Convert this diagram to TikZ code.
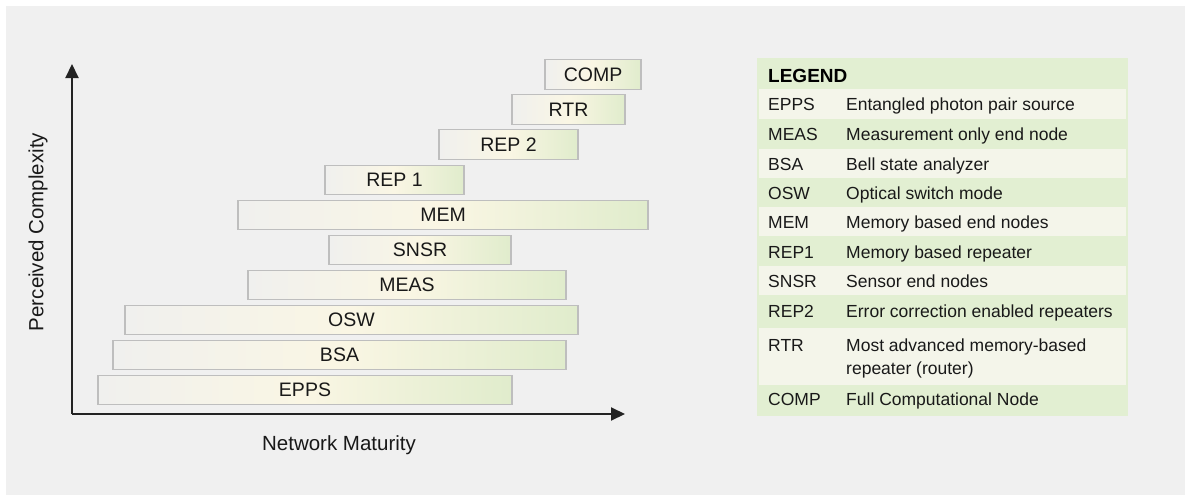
\documentclass[tikz,border=0pt]{standalone}
\usepackage{fontspec}
\setmainfont{Liberation Sans}
\usetikzlibrary{arrows.meta}
\definecolor{bgc}{RGB}{240,240,240}
\definecolor{barleft}{RGB}{240,240,238}
\definecolor{barmid}{RGB}{250,246,228}
\definecolor{barright}{RGB}{224,236,204}
\definecolor{barline}{RGB}{190,190,190}
\definecolor{leggreen}{RGB}{226,239,210}
\definecolor{leglight}{RGB}{244,245,234}
\definecolor{txt}{RGB}{25,25,25}
\tikzset{
  barbox/.style={rectangle, draw=barline, line width=1.2pt, inner sep=0pt,
    minimum height=29.5pt, left color=barleft, right color=barright, middle color=barmid,
    text=txt, font=\fontsize{19.5}{22}\selectfont},
  axisline/.style={line width=2pt, draw={rgb,255:red,35;green,35;blue,35}, -{Triangle[length=14pt,width=13pt]}},
  axislabel/.style={text=txt, font=\fontsize{20.5}{24}\selectfont, inner sep=0pt},
  legabbr/.style={anchor=base west, inner sep=0pt, text=txt, font=\fontsize{17.5}{21}\selectfont},
  legdesc/.style={anchor=base west, inner sep=0pt, text=txt, font=\fontsize{17.5}{21}\selectfont},
  leghead/.style={anchor=base west, inner sep=0pt, text=black, font=\fontsize{19}{22}\selectfont\bfseries},
}
\begin{document}
\begin{tikzpicture}[x=1pt, y=-1pt]
\useasboundingbox (0,0) rectangle (1185,495);
\fill[white] (0,0) rectangle (1185,495);
\fill[bgc] (6,6) rectangle (1185,495);

% axes
\coordinate (O) at (72,414);
\coordinate (ytip) at (72,64);
\coordinate (xtip) at (625,414);
\draw[axisline] (O) -- (ytip);
\draw[axisline] (O) -- (xtip);
\node[axislabel, rotate=90] (ylab) at (38,232) {Perceived Complexity};
\node[axislabel] (xlab) at (339,445) {Network Maturity};

% bars
\node[barbox, minimum width=414pt] (epps) at (305,390) {EPPS};
\node[barbox, minimum width=453pt] (bsa) at (339.5,355) {BSA};
\node[barbox, minimum width=453pt] (osw) at (351.5,320) {OSW};
\node[barbox, minimum width=318pt] (meas) at (407,285) {MEAS};
\node[barbox, minimum width=182pt] (snsr) at (420,250) {SNSR};
\node[barbox, minimum width=410pt] (mem) at (443,215) {MEM};
\node[barbox, minimum width=139pt] (rep1) at (394.5,180) {REP 1};
\node[barbox, minimum width=139pt] (rep2) at (508.5,144.5) {REP 2};
\node[barbox, minimum width=113pt] (rtr) at (568.5,109.5) {RTR};
\node[barbox, minimum width=96pt] (comp) at (593,74.5) {COMP};

% legend
\fill[leggreen] (757,58) rectangle (1128,416);
\fill[leglight] (759,89) rectangle (1126,119);
\fill[leglight] (759,149) rectangle (1126,178);
\fill[leglight] (759,207) rectangle (1126,236);
\fill[leglight] (759,266) rectangle (1126,295);
\fill[leglight] (759,328) rectangle (1126,385);

\node[leghead] (lh) at (768,82) {LEGEND};
\node[legabbr] (a1) at (768,110.3) {EPPS};
\node[legdesc] (d1) at (846,110.3) {Entangled photon pair source};
\node[legabbr] (a2) at (768,140.3) {MEAS};
\node[legdesc] (d2) at (846,140.3) {Measurement only end node};
\node[legabbr] (a3) at (768,170) {BSA};
\node[legdesc] (d3) at (846,170) {Bell state analyzer};
\node[legabbr] (a4) at (768,199.5) {OSW};
\node[legdesc] (d4) at (846,199.5) {Optical switch mode};
\node[legabbr] (a5) at (768,228) {MEM};
\node[legdesc] (d5) at (846,228) {Memory based end nodes};
\node[legabbr] (a6) at (768,258) {REP1};
\node[legdesc] (d6) at (846,258) {Memory based repeater};
\node[legabbr] (a7) at (768,287.5) {SNSR};
\node[legdesc] (d7) at (846,287.5) {Sensor end nodes};
\node[legabbr] (a8) at (768,317.5) {REP2};
\node[legdesc] (d8) at (846,317.5) {Error correction enabled repeaters};
\node[legabbr] (a9) at (768,351.3) {RTR};
\node[legdesc] (d9) at (846,351.3) {Most advanced memory-based};
\node[legdesc] (d9b) at (846,374.3) {repeater (router)};
\node[legabbr] (a10) at (768,405.5) {COMP};
\node[legdesc] (d10) at (846,405.5) {Full Computational Node};
\end{tikzpicture}
\end{document}
